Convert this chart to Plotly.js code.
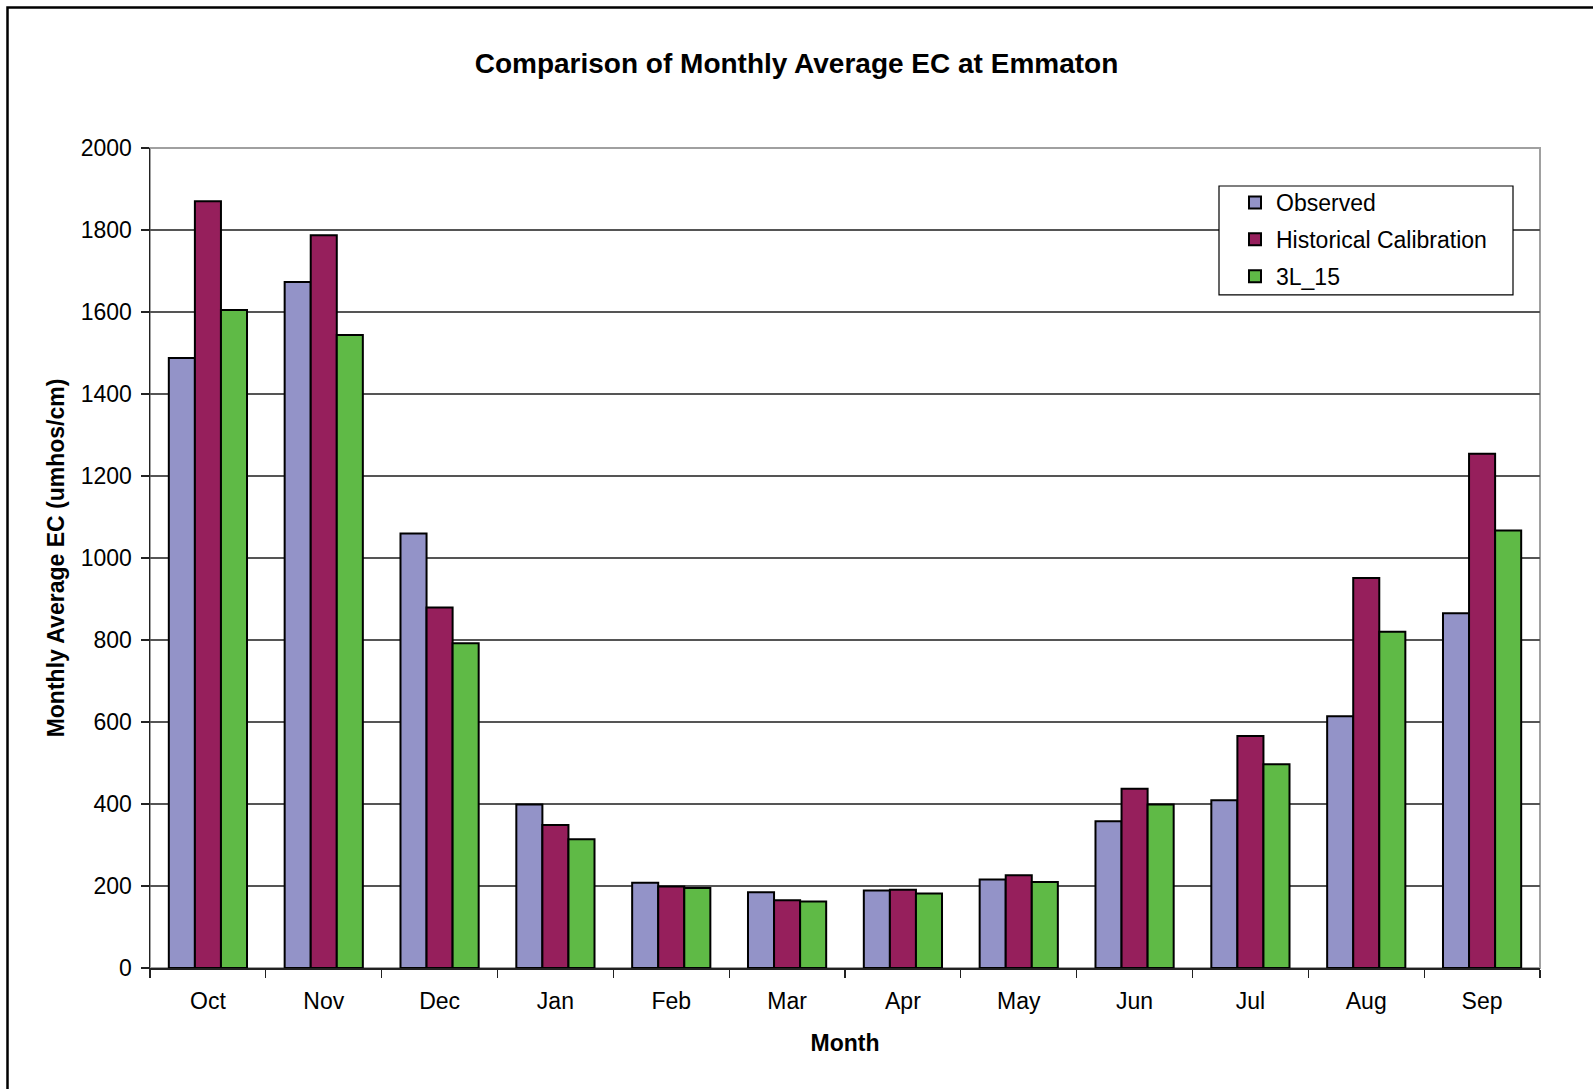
<!DOCTYPE html>
<html>
<head>
<meta charset="utf-8">
<script src="https://cdn.plot.ly/plotly-3.0.1.min.js"></script>
<style>html,body{margin:0;padding:0;background:#fff;}#chart{width:1593px;height:1089px;}</style>
</head>
<body>
<div id="chart"></div>
<script>
const months = ['Oct','Nov','Dec','Jan','Feb','Mar','Apr','May','Jun','Jul','Aug','Sep'];
const observed = [1488,1673,1060,399,208,185,189,216,358,409,614,865];
const historical = [1870,1787,879,349,199,165,191,226,437,566,951,1254];
const sim3L15 = [1605,1544,792,314,195,162,182,210,399,497,820,1067];
const yTicks = [0,200,400,600,800,1000,1200,1400,1600,1800,2000];

const FONT = 'Liberation Sans, Arial, sans-serif';
const line = {color:'#000', width:2};

// plot area in pixels
const PL = 150, PR = 1540, PT = 148, PB = 968.5;
const px = v => (v - PL) / (PR - PL);
const py = v => (PB - v) / (PB - PT);

const traces = [
  {type:'bar', name:'Observed', x:months, y:observed, legendgroup:'a',
   marker:{color:'#9393C8', line:line}},
  {type:'bar', name:'Historical Calibration', x:months, y:historical, legendgroup:'b',
   marker:{color:'#961F5C', line:line}},
  {type:'bar', name:'3L_15', x:months, y:sim3L15, legendgroup:'c',
   marker:{color:'#5FBA46', line:line}}
];

const layout = {
  width:1593, height:1089,
  margin:{l:PL, r:1593-PR, t:PT, b:1089-PB},
  paper_bgcolor:'#fff', plot_bgcolor:'#fff',
  font:{family:FONT, size:23, color:'#000'},
  barmode:'group', bargap:0.325, bargroupgap:0,
  showlegend:true,
  title:{text:'<b>Comparison of Monthly Average EC at Emmaton</b>',
    font:{family:FONT, size:28, color:'#000'},
    xref:'container', x:0.5, xanchor:'center',
    yref:'container', y:1-63/1089, yanchor:'middle'},
  xaxis:{type:'category', tickson:'boundaries', ticks:'outside', ticklen:8, tickwidth:1.2, tickcolor:'#222',
    showline:true, linecolor:'#222', linewidth:1.5, showgrid:false, zeroline:false,
    tickfont:{family:FONT, size:23, color:'#000'}, ticklabelstandoff:12,
    title:{text:'<b>Month</b>', font:{family:FONT, size:23, color:'#000'}, standoff:22}},
  yaxis:{range:[0,2000], tickvals:yTicks, ticks:'outside', ticklen:8, tickwidth:1.2, tickcolor:'#222',
    showline:true, linecolor:'#222', linewidth:1.5, showgrid:true, gridcolor:'#555', gridwidth:1.3,
    zeroline:false, tickfont:{family:FONT, size:23, color:'#000'}, ticklabelstandoff:4,
    title:{text:'<b>Monthly Average EC (umhos/cm)</b>', font:{family:FONT, size:23, color:'#000'}, standoff:9}},
  legend:{x:px(1234), y:py(181), xanchor:'left', yanchor:'top',
    bgcolor:'rgba(0,0,0,0)', borderwidth:0, itemwidth:32,
    font:{family:FONT, size:23, color:'#000'}, tracegroupgap:4, traceorder:'grouped'},
  shapes:[
    {type:'rect', xref:'paper', yref:'paper', x0:0, x1:1, y0:0, y1:1,
     line:{color:'#a0a0a0', width:2}, layer:'below'},
    {type:'rect', xref:'paper', yref:'paper', x0:px(1219), x1:px(1513), y0:py(295), y1:py(186),
     line:{color:'#000', width:1.2}, fillcolor:'#fff', layer:'above'},
    {type:'rect', xref:'paper', yref:'paper', x0:px(7.5), x1:1.2, y0:-0.3, y1:py(7.5),
     line:{color:'#000', width:2.5}, fillcolor:'rgba(0,0,0,0)', layer:'above'}
  ]
};

Plotly.newPlot('chart', traces, layout, {displayModeBar:false, staticPlot:true});
</script>
</body>
</html>
